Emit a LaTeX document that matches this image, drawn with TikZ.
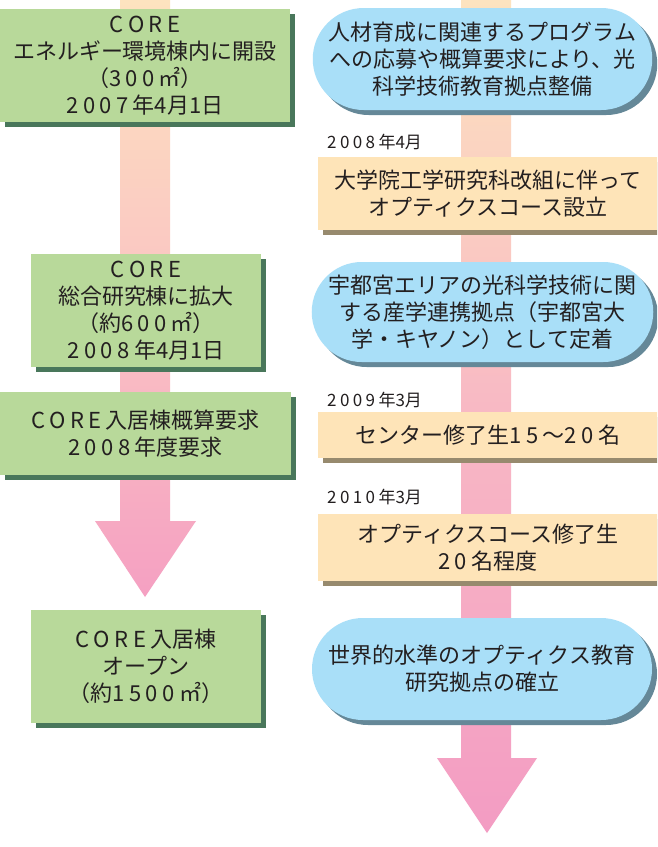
\documentclass[tikz,border=0pt]{standalone}
\usepackage{fontspec}
\setmainfont{Noto Sans CJK JP}
\usetikzlibrary{shadows,shapes.misc}
\definecolor{gfill}{HTML}{B8D99A}
\definecolor{gshad}{HTML}{49775B}
\definecolor{bfill}{HTML}{A9DFF8}
\definecolor{bshad}{HTML}{658898}
\definecolor{pfill}{HTML}{FEE4B8}
\definecolor{pshad}{HTML}{978A6E}
\definecolor{tcol}{HTML}{231F20}
\definecolor{bartop}{HTML}{FDE3BF}
\definecolor{barmidL}{HTML}{FAC4C3}
\definecolor{barbotL}{HTML}{F5A0C2}
\definecolor{barmidR}{HTML}{F8B8C4}
\definecolor{barbotR}{HTML}{F39CC3}
\def\trstop{}
\def\tr#1{\trgo#1\trstop}
\def\trgo#1{\ifx#1\trstop\else#1\kern0.2em\expandafter\trgo\fi}
\begin{document}
\begin{tikzpicture}[x=1pt,y=-1pt,
  txt/.style={font=\fontsize{22}{27}\selectfont, text=tcol, align=center, inner sep=0pt},
  gbox/.style={txt, rectangle, fill=gfill,
    drop shadow={shadow xshift=5pt, shadow yshift=-5pt, fill=gshad, opacity=1}},
  pbox/.style={txt, rectangle, fill=pfill,
    drop shadow={shadow xshift=5pt, shadow yshift=-5pt, fill=pshad, opacity=1}},
  pill/.style={txt, rounded rectangle, fill=bfill,
    drop shadow={shadow xshift=5pt, shadow yshift=-5pt, fill=bshad, opacity=1}},
  datel/.style={font=\fontsize{17}{19}\selectfont, text=tcol, inner sep=0pt, anchor=west}]
\useasboundingbox (0,0) rectangle (657,847);
\clip (0,0) rectangle (657,847);
\fill[white] (0,0) rectangle (657,847);
% background bars with arrow heads
\shade[top color=bartop, bottom color=barbotL, middle color=barmidL]
  (120,0) -- (170,0) -- (170,521) -- (196,521) -- (145,597) -- (95,521) -- (120,521) -- cycle;
\shade[top color=bartop, bottom color=barbotR, middle color=barmidR]
  (461,0) -- (511,0) -- (511,758) -- (537,758) -- (487,833) -- (437,758) -- (461,758) -- cycle;
% left column
\node[gbox, minimum width=290pt, minimum height=113pt] (g1) at (145,65.5)
  {\tr{COR}E\\エネルギー環境棟内に開設\\（\tr{300}㎡）\\\tr{2007}年4月1日};
\node[gbox, minimum width=230pt, minimum height=113pt] (g2) at (146,310.5)
  {\tr{COR}E\\総合研究棟に拡大\\（約\tr{600}㎡）\\\tr{2008}年4月1日};
\node[gbox, minimum width=291pt, minimum height=83pt] (g3) at (145.5,433.5)
  {\tr{CORE}入居棟概算要求\\\tr{2008}年度要求};
\node[gbox, minimum width=230pt, minimum height=113pt] (g4) at (146,666.5)
  {\tr{CORE}入居棟\\オープン\\（約\tr{1500}㎡）};
% right column
\node[pill, minimum width=339pt, minimum height=102pt] (p1) at (482.5,59)
  {人材育成に関連するプログラム\\への応募や概算要求により、光\\科学技術教育拠点整備};
\node[datel] (d1) at (327,142) {\tr{2008}年4月};
\node[pbox, minimum width=340pt, minimum height=73pt] (b1) at (488,193.5)
  {大学院工学研究科改組に伴って\\オプティクスコース設立};
\node[pill, minimum width=339pt, minimum height=100pt] (p2) at (482.5,312)
  {宇都宮エリアの光科学技術に関\\する産学連携拠点（宇都宮大\\学・キヤノン）として定着};
\node[datel] (d2) at (327,400) {\tr{2009}年3月};
\node[pbox, minimum width=340pt, minimum height=46pt] (b2) at (488,435)
  {センター修了生\tr{15}～\tr{20}名};
\node[datel] (d3) at (327,497) {\tr{2010}年3月};
\node[pbox, minimum width=340pt, minimum height=67pt] (b3) at (488,547.5)
  {オプティクスコース修了生\\\tr{20}名程度};
\node[pill, minimum width=340pt, minimum height=102pt] (p3) at (482,669)
  {世界的水準のオプティクス教育\\研究拠点の確立};
\end{tikzpicture}
\end{document}
